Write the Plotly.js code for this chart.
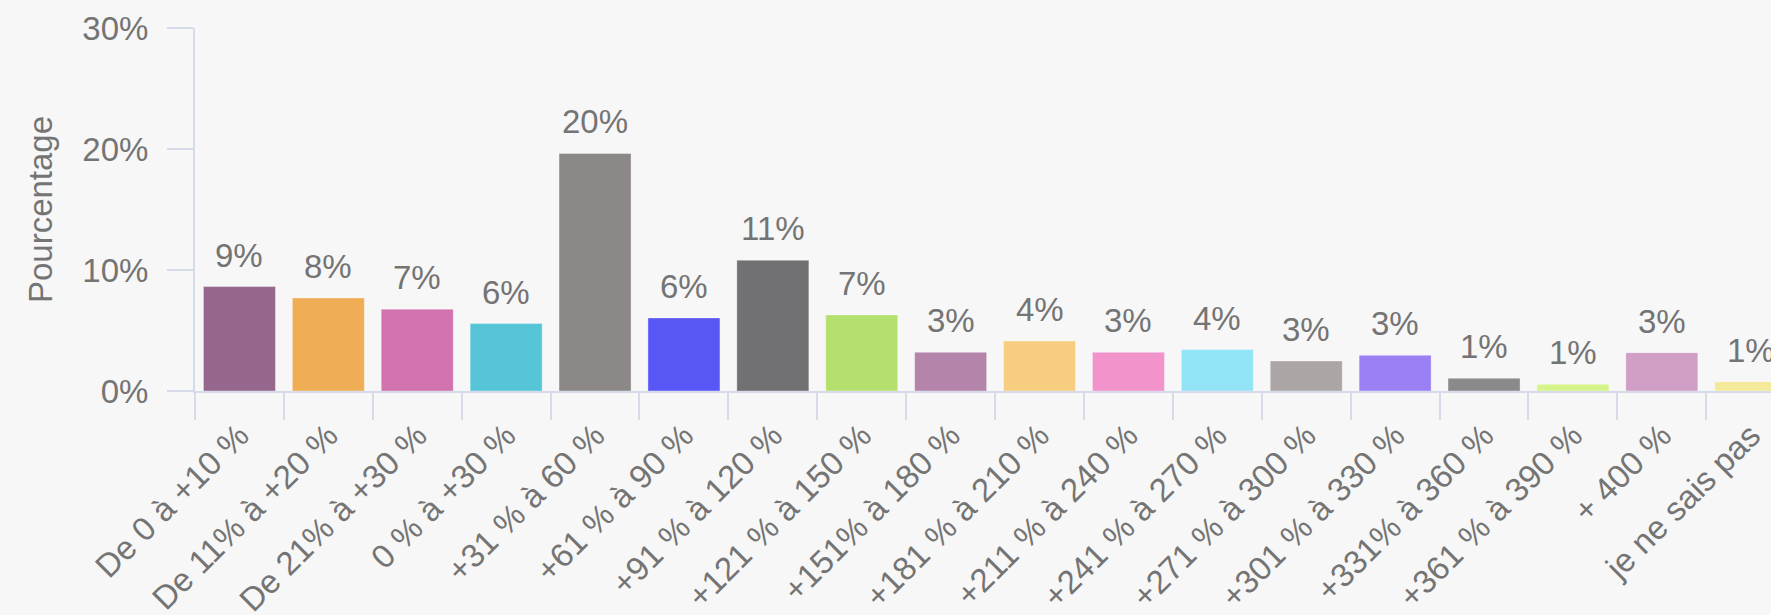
<!DOCTYPE html>
<html>
<head>
<meta charset="utf-8">
<script src="https://cdn.plot.ly/plotly-3.0.1.min.js"></script>
<style>
  html, body { margin: 0; padding: 0; background: #f7f7f7; overflow: hidden; }
  #chart { width: 1771px; height: 615px; }
</style>
</head>
<body>
<div id="chart"></div>
<script>
const categories = [
  "De 0 à +10 %", "De 11% à +20 %", "De 21% à +30 %", "0 % à +30 %",
  "+31 % à 60 %", "+61 % à 90 %", "+91 % à 120 %", "+121 % à 150 %",
  "+151% à 180 %", "+181 % à 210 %", "+211 % à 240 %", "+241 % à 270 %",
  "+271 % à 300 %", "+301 % à 330 %", "+331% à 360 %", "+361 % à 390 %",
  "+ 400 %", "je ne sais pas"
];
const values = [8.63, 7.69, 6.76, 5.57, 19.63, 6.04, 10.81, 6.29, 3.2, 4.14,
                3.2, 3.42, 2.48, 2.95, 1.05, 0.55, 3.17, 0.77];
const valueLabels = ["9%", "8%", "7%", "6%", "20%", "6%", "11%", "7%", "3%", "4%",
                     "3%", "4%", "3%", "3%", "1%", "1%", "3%", "1%"];
const barColors = ["#96678d", "#efae55", "#d272ae", "#55c5d7", "#8c8888", "#5857f5",
                   "#717173", "#b4e06d", "#b484aa", "#f7cd7f", "#f293cb", "#92e3f6",
                   "#aba5a5", "#9b80f3", "#8a8a8c", "#d5f58a", "#d19fc6", "#f5ea99"];
const yTickValues = [0, 10, 20, 30];
const yTickLabels = ["0%", "10%", "20%", "30%"];

const FONT = "Liberation Sans, Arial, sans-serif";
const axisColor = "#d5dbe9";
const textColor = "#747474";

const trace = {
  type: "bar",
  x: categories,
  y: values,
  marker: { color: barColors, line: { width: 1, color: "rgba(255,255,255,0.35)" } },
  hoverinfo: "x+y"
};

const annotations = categories.map((c, i) => ({
  x: c, y: values[i], xref: "x", yref: "y",
  text: valueLabels[i], showarrow: false,
  yanchor: "bottom", yshift: 11,
  font: { family: FONT, size: 33, color: textColor }
}));

const layout = {
  width: 1771, height: 615,
  paper_bgcolor: "#f7f7f7", plot_bgcolor: "rgba(0,0,0,0)",
  margin: { l: 195, r: 0, t: 28, b: 224 },
  showlegend: false,
  bargap: 0.19,
  font: { family: FONT, size: 33, color: textColor },
  xaxis: {
    type: "category",
    range: [-0.5, 17.228],
    showline: true, linecolor: axisColor, linewidth: 2,
    ticks: "outside", tickson: "boundaries", ticklen: 27, tickwidth: 2, tickcolor: axisColor,
    tickangle: -45,
    ticklabelstandoff: 10,
    tickfont: { family: FONT, size: 33, color: textColor },
    showgrid: false, zeroline: false, automargin: false
  },
  yaxis: {
    range: [0, 30],
    tickvals: yTickValues, ticktext: yTickLabels,
    showline: true, linecolor: axisColor, linewidth: 2,
    ticks: "outside", ticklen: 26, tickwidth: 2, tickcolor: axisColor,
    ticklabelstandoff: 12,
    tickfont: { family: FONT, size: 33, color: textColor },
    showgrid: false, zeroline: false, automargin: false,
    title: { text: "Pourcentage", font: { family: FONT, size: 33, color: textColor }, standoff: 20 }
  },
  annotations: annotations
};

Plotly.newPlot("chart", [trace], layout, { displayModeBar: false, staticPlot: true });
</script>
</body>
</html>
